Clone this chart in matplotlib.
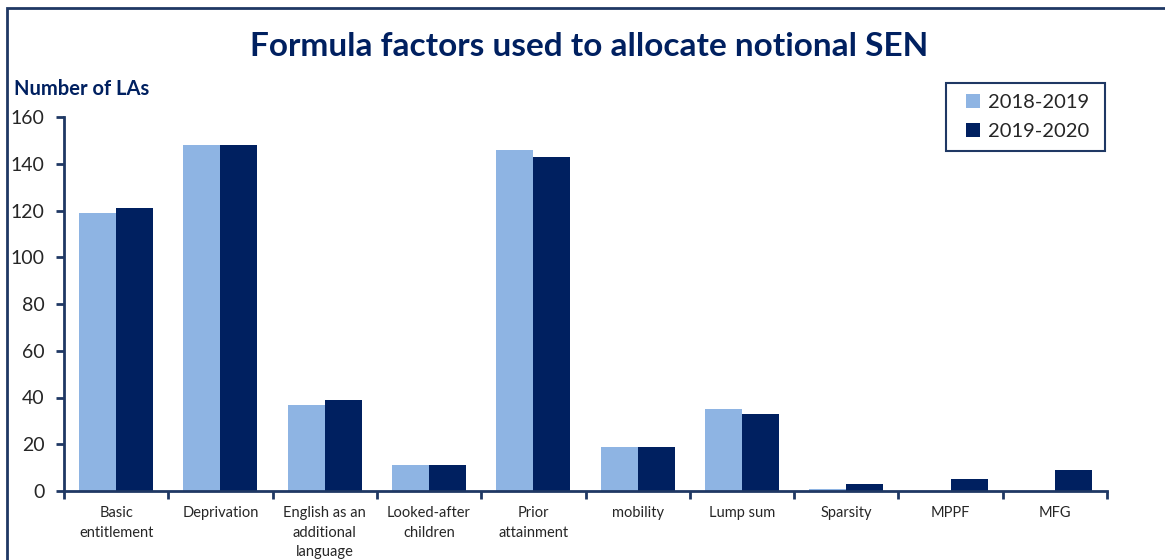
import matplotlib

matplotlib.use("Agg")
import matplotlib.pyplot as plt
import numpy as np
from matplotlib.patches import Rectangle

NAVY = "#002060"
LIGHT = "#8EB4E3"
AXIS_COL = "#1F3864"

categories = [
    "Basic\nentitlement",
    "Deprivation",
    "English as an\nadditional\nlanguage",
    "Looked-after\nchildren",
    "Prior\nattainment",
    "mobility",
    "Lump sum",
    "Sparsity",
    "MPPF",
    "MFG",
]
series_labels = ["2018-2019", "2019-2020"]
values_2018 = [119, 148, 37, 11, 146, 19, 35, 1, 0, 0]
values_2019 = [121, 148, 39, 11, 143, 19, 33, 3, 5, 9]

plt.rcParams["font.family"] = ["Lato", "DejaVu Sans"]

fig = plt.figure(figsize=(11.65, 5.6), dpi=100)
ax = fig.add_axes([64 / 1165, 1 - 491 / 560, (1107 - 64) / 1165, (491 - 117) / 560])

x = np.arange(len(categories))
w = 0.355
ax.bar(x - w / 2, values_2018, width=w, color=LIGHT, label=series_labels[0])
ax.bar(x + w / 2, values_2019, width=w, color=NAVY, label=series_labels[1])

ax.set_xlim(-0.5, len(categories) - 0.5)
ax.set_ylim(0, 160)
ax.set_yticks(range(0, 161, 20))
ax.set_xticks(x)
ax.set_xticklabels(categories, fontsize=10.5, color="#262626", linespacing=1.5, va="top")
ax.set_xticks(np.arange(-0.5, len(categories), 1.0), minor=True)
ax.tick_params(axis="x", which="major", length=0, pad=11)
ax.tick_params(axis="x", which="minor", length=6, width=2, color=AXIS_COL, direction="out")
ax.tick_params(axis="y", length=6, width=2, color=AXIS_COL, direction="out", labelsize=14,
               labelcolor="#262626", pad=8)

for side in ("top", "right"):
    ax.spines[side].set_visible(False)
for side in ("left", "bottom"):
    ax.spines[side].set_color(AXIS_COL)
    ax.spines[side].set_linewidth(2)

# legend box drawn separately so its padding matches the original
leg_box = (946 / 1165, 1 - 151 / 560, 159 / 1165, 68 / 560)
ax.legend(loc="center", bbox_to_anchor=(leg_box[0] + leg_box[2] / 2 + 0.002, leg_box[1] + leg_box[3] / 2),
          bbox_transform=fig.transFigure, fontsize=14.5, frameon=False,
          handlelength=0.7, handleheight=0.7, handletextpad=0.4, labelspacing=0.55,
          borderpad=0, labelcolor="#262626")
fig.patches.append(Rectangle(leg_box[:2], leg_box[2], leg_box[3], transform=fig.transFigure,
                             fill=False, edgecolor=AXIS_COL, linewidth=1.5))

fig.text(0.506, 1 - 47 / 560, "Formula factors used to allocate notional SEN", ha="center", va="center",
         fontsize=24, fontweight="bold", color=NAVY)
fig.text(14 / 1165, 1 - 89 / 560, "Number of LAs", ha="left", va="center", fontsize=14.5,
         fontweight="bold", color=NAVY)

fig.patches.append(Rectangle((7 / 1165, -0.1), 1.2, 1 - 8 / 560 + 0.1, transform=fig.transFigure,
                             fill=False, edgecolor=AXIS_COL, linewidth=2))

fig.savefig("out.png", dpi=100)
